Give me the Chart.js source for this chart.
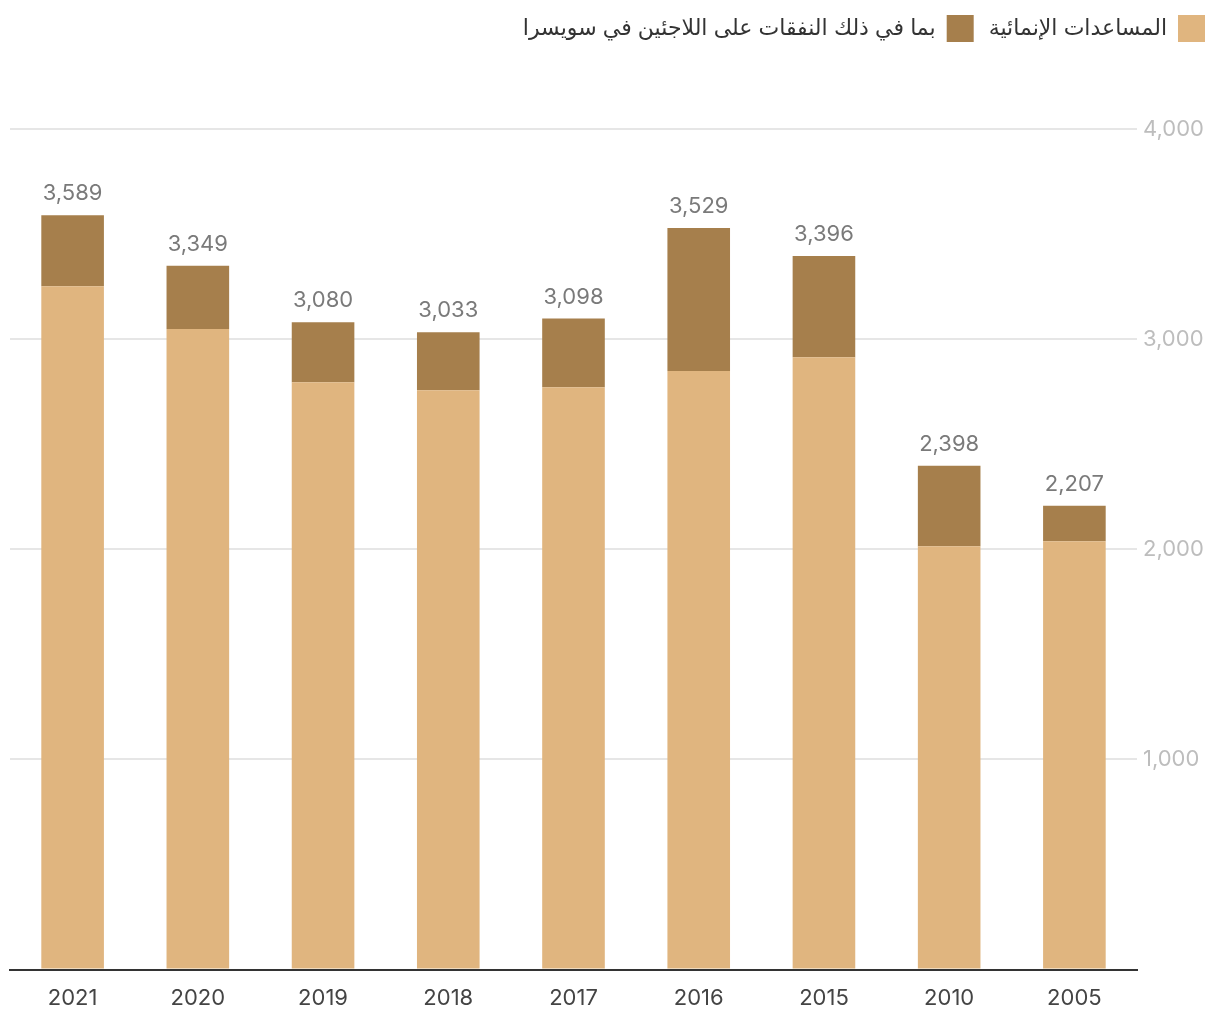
<!DOCTYPE html>
<html>
<head>
<meta charset="utf-8">
<script src="https://cdn.jsdelivr.net/npm/chart.js@4.4.0/dist/chart.umd.min.js"></script>
<style>
  html, body { margin: 0; padding: 0; background: #fff; }
  #wrap { width: 1220px; height: 1020px; }
</style>
</head>
<body>
<div id="wrap"><canvas id="chart" width="1220" height="1020"></canvas></div>
<script>
// years, left to right
const years = ["2021", "2020", "2019", "2018", "2017", "2016", "2015", "2010", "2005"];
// development aid without refugee costs (light part)
const devAid = [3252, 3048, 2795, 2757, 2771, 2848, 2914, 2014, 2038];
// refugee costs in Switzerland (dark part)
const refugeeCosts = [337, 301, 285, 276, 327, 681, 482, 384, 169];
// totals printed above the bars
const totals = [3589, 3349, 3080, 3033, 3098, 3529, 3396, 2398, 2207];
const yTicks = [1000, 2000, 3000, 4000];

const seriesNames = ["المساعدات الإنمائية", "بما في ذلك النفقات على اللاجئين في سويسرا"];
const FONT = "Inter, 'DejaVu Sans', sans-serif";

// draws the total above each stacked bar
const totalLabels = {
  id: "totalLabels",
  afterDatasetsDraw(chart) {
    const ctx = chart.ctx;
    const meta = chart.getDatasetMeta(1);
    ctx.save();
    ctx.font = "22px " + FONT;
    ctx.fillStyle = "#7a7a7a";
    ctx.textAlign = "center";
    ctx.textBaseline = "alphabetic";
    meta.data.forEach((bar, i) => {
      ctx.fillText(totals[i].toLocaleString("en-US"), bar.x, bar.y - 15);
    });
    ctx.restore();
  }
};

// leave extra room under the legend
const legendSpace = {
  id: "legendSpace",
  beforeInit(chart) {
    const origFit = chart.legend.fit;
    chart.legend.fit = function () {
      origFit.bind(chart.legend)();
      this.height += 77;
    };
  }
};

new Chart(document.getElementById("chart"), {
  type: "bar",
  data: {
    labels: years,
    datasets: [
      {
        label: seriesNames[0],
        data: devAid,
        backgroundColor: "#e0b57f",
        barPercentage: 0.5,
        categoryPercentage: 1.0,
      },
      {
        label: seriesNames[1],
        data: refugeeCosts,
        backgroundColor: "#a67f4c",
        barPercentage: 0.5,
        categoryPercentage: 1.0,
      },
    ],
  },
  options: {
    responsive: false,
    animation: false,
    layout: { padding: { left: 10, right: 0, top: 0, bottom: 0 } },
    plugins: {
      legend: {
        display: true,
        position: "top",
        align: "start",
        rtl: true,
        labels: {
          boxWidth: 27,
          boxHeight: 27,
          color: "#333",
          font: { size: 22, family: FONT },
          padding: 15,
        },
      },
      tooltip: { enabled: false },
    },
    scales: {
      x: {
        stacked: true,
        grid: { display: false },
        border: { display: true, color: "#333", width: 2 },
        ticks: {
          color: "#444",
          font: { size: 22, family: FONT },
          padding: 8,
        },
      },
      y: {
        stacked: true,
        position: "right",
        min: 0,
        max: 4000,
        afterBuildTicks: (axis) => {
          axis.ticks = [0].concat(yTicks).map(v => ({ value: v }));
        },
        afterFit: (axis) => {
          axis.width = 83;
        },
        grid: {
          color: "#e6e6e6",
          lineWidth: 2,
          drawTicks: false,
        },
        border: { display: false },
        ticks: {
          color: "#bdbdbd",
          font: { size: 22, family: FONT },
          padding: 6,
          callback: (v) => v === 0 ? "" : v.toLocaleString("en-US"),
        },
      },
    },
  },
  plugins: [totalLabels, legendSpace],
});
</script>
</body>
</html>
